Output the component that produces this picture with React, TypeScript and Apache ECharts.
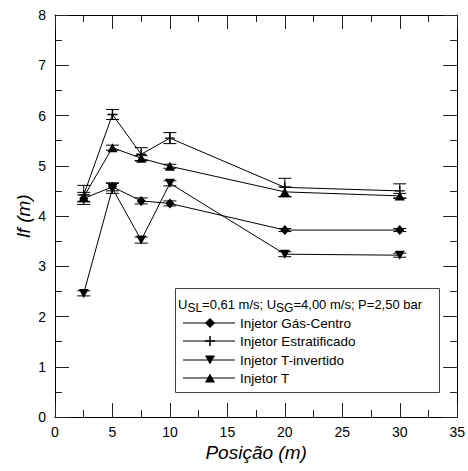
import React, { useEffect, useRef } from "react";
import * as echarts from "echarts";

const positions = [2.5, 5, 7.5, 10, 20, 30];
const seriesNames = [
  "Injetor Gás-Centro",
  "Injetor Estratificado",
  "Injetor T-invertido",
  "Injetor T",
];
const gasCentro = [4.35, 4.58, 4.3, 4.25, 3.72, 3.72];
const gasCentroErr = [0.07, 0.08, 0.06, 0.05, 0.03, 0.03];
const estratificado = [4.42, 6.02, 5.23, 5.55, 4.57, 4.5];
const estratificadoErr = [0.19, 0.1, 0.13, 0.11, 0.18, 0.14];
const tInvertido = [2.46, 4.55, 3.52, 4.65, 3.24, 3.22];
const tInvertidoErr = [0.05, 0.1, 0.06, 0.05, 0.05, 0.04];
const injetorT = [4.38, 5.36, 5.15, 4.99, 4.48, 4.4];
const injetorTErr = [0.09, 0.05, 0.05, 0.04, 0.1, 0.05];

const FONT = "'Liberation Sans', Arial, sans-serif";
const plusPath = "path://M0,4.3H10V5.7H0Z M4.3,0H5.7V10H4.3Z";

export default function App() {
  const ref = useRef<HTMLDivElement>(null);
  useEffect(() => {
    if (!ref.current) return;
    const chart = echarts.init(ref.current, undefined, { renderer: "svg" });

    const errRender = (params: any, api: any) => {
      const x = api.value(0);
      const y = api.value(1);
      const e = api.value(2);
      const p1 = api.coord([x, y + e]);
      const p2 = api.coord([x, y - e]);
      const hw = 6.5;
      const style = { stroke: "#000", lineWidth: 1, fill: null };
      return {
        type: "group",
        children: [
          { type: "line", shape: { x1: p1[0], y1: p1[1], x2: p2[0], y2: p2[1] }, style },
          { type: "line", shape: { x1: p1[0] - hw, y1: p1[1], x2: p1[0] + hw, y2: p1[1] }, style },
          { type: "line", shape: { x1: p2[0] - hw, y1: p2[1], x2: p2[0] + hw, y2: p2[1] }, style },
        ],
      };
    };

    const values = [gasCentro, estratificado, tInvertido, injetorT];
    const errs = [gasCentroErr, estratificadoErr, tInvertidoErr, injetorTErr];
    const symbols: any[] = ["diamond", plusPath, "triangle", "triangle"];
    const symbolSizes: any[] = [[9, 10], 10, [10, 9], [10, 9]];
    const rotates = [0, 0, 180, 0];

    const lineSeries = values.map((vals, i) => ({
      type: "line",
      name: seriesNames[i],
      data: positions.map((p, j) => [p, vals[j]]),
      symbol: symbols[i],
      symbolSize: symbolSizes[i],
      symbolRotate: rotates[i],
      showAllSymbol: true,
      lineStyle: { color: "#000", width: 1 },
      itemStyle: { color: "#000", borderWidth: 0 },
      z: 3,
    }));
    const errSeries = values.map((vals, i) => ({
      type: "custom",
      name: seriesNames[i] + " err",
      renderItem: errRender,
      encode: { x: 0, y: 1 },
      data: positions.map((p, j) => [p, vals[j], errs[i][j]]),
      z: 4,
    }));

    const lx1 = 183, lx2 = 235, mx = 210, tx = 240;
    const rows = [323, 341, 360, 378];
    const blk = { fill: "#000" };
    const lineStyle = { stroke: "#000", lineWidth: 1 };
    const markers: any[] = [
      { type: "polygon", shape: { points: [[mx, rows[0] - 5], [mx + 5, rows[0]], [mx, rows[0] + 5], [mx - 5, rows[0]]] }, style: blk },
      { type: "line", shape: { x1: mx, y1: rows[1] - 5, x2: mx, y2: rows[1] + 5 }, style: { stroke: "#000", lineWidth: 1.5 } },
      { type: "line", shape: { x1: mx - 5, y1: rows[1], x2: mx + 5, y2: rows[1] }, style: { stroke: "#000", lineWidth: 1.5 } },
      { type: "polygon", shape: { points: [[mx - 5, rows[2] - 4.5], [mx + 5, rows[2] - 4.5], [mx, rows[2] + 4.5]] }, style: blk },
      { type: "polygon", shape: { points: [[mx - 5, rows[3] + 4.5], [mx + 5, rows[3] + 4.5], [mx, rows[3] - 4.5]] }, style: blk },
    ];
    const legendChildren: any[] = [
      { type: "rect", shape: { x: 175.5, y: 288.5, width: 264, height: 104 }, style: { fill: "#fff", stroke: "#444", lineWidth: 1 } },
      {
        type: "text",
        x: 178,
        y: 304,
        style: {
          text: "{n|U}{s|SL}{n|=0,61 m/s; U}{s|SG}{n|=4,00 m/s; P=2,50 bar}",
          verticalAlign: "middle",
          fontFamily: FONT,
          fontSize: 13,
          fill: "#000",
          rich: {
            n: { fontSize: 13, fontFamily: FONT, fill: "#000", lineHeight: 20, verticalAlign: "middle" },
            s: { fontSize: 12, fontFamily: FONT, fill: "#000", lineHeight: 20, verticalAlign: "bottom" },
          },
        },
      },
      ...rows.map((ry) => ({ type: "line", shape: { x1: lx1, y1: ry, x2: lx2, y2: ry }, style: lineStyle })),
      ...markers,
      ...rows.map((ry, i) => ({
        type: "text",
        x: tx,
        y: ry,
        style: { text: seriesNames[i], fontFamily: FONT, fontSize: 13.5, fill: "#000", verticalAlign: "middle" },
      })),
    ];

    const tickColor = "#222";
    const axisCommon = {
      axisLine: { show: true, onZero: false, lineStyle: { color: "#000", width: 1 } },
      axisTick: { show: true, inside: true, length: 14, lineStyle: { color: tickColor } },
      minorTick: { show: true, splitNumber: 2, length: 7, lineStyle: { color: tickColor } },
      splitLine: { show: false },
    };
    chart.setOption({
      animation: false,
      backgroundColor: "#fff",
      grid: { left: 55, top: 15, right: 10, bottom: 54, containLabel: false },
      xAxis: [
        {
          type: "value",
          min: 0,
          max: 35,
          interval: 5,
          name: "Posição (m)",
          nameLocation: "middle",
          nameGap: 26,
          nameMoveOverlap: false,
          nameTextStyle: { fontFamily: FONT, fontSize: 19, fontStyle: "italic", color: "#000" },
          ...axisCommon,
          axisLabel: { fontFamily: FONT, fontSize: 14, color: "#000", margin: 8 },
        },
        {
          type: "value",
          position: "top",
          min: 0,
          max: 35,
          interval: 5,
          ...axisCommon,
          axisLabel: { show: false },
        },
      ],
      yAxis: [
        {
          type: "value",
          min: 0,
          max: 8,
          interval: 1,
          name: "lf (m)",
          nameLocation: "middle",
          nameGap: 22,
          nameMoveOverlap: false,
          nameTextStyle: { fontFamily: FONT, fontSize: 19, fontStyle: "italic", color: "#000" },
          ...axisCommon,
          axisLabel: { fontFamily: FONT, fontSize: 14, color: "#000", margin: 9 },
        },
        {
          type: "value",
          position: "right",
          min: 0,
          max: 8,
          interval: 1,
          ...axisCommon,
          axisLabel: { show: false },
        },
      ],
      series: [...lineSeries, ...errSeries],
      graphic: [{ type: "group", z: 100, children: legendChildren }],
    });
    return () => chart.dispose();
  }, []);
  return <div ref={ref} style={{ width: 468, height: 471, position: "absolute", left: 0, top: 0 }} />;
}
